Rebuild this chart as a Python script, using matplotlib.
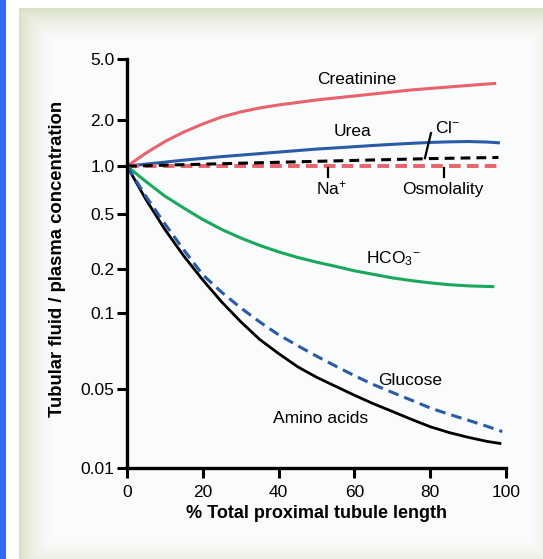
#!/usr/bin/env python3
"""
Tubular fluid / plasma concentration along the proximal tubule.
"""
import matplotlib
matplotlib.use('Agg')
import matplotlib.pyplot as plt
import numpy as np

plt.rcParams['font.family'] = ['Liberation Sans', 'DejaVu Sans']
plt.rcParams['mathtext.fontset'] = 'custom'
plt.rcParams['mathtext.rm'] = 'Liberation Sans'
plt.rcParams['mathtext.it'] = 'Liberation Sans'
plt.rcParams['mathtext.default'] = 'regular'

# Data (x = % of tubule length, y = TF/P ratio)
creat_x = [0, 5, 10, 15, 20, 25, 30, 35, 40, 45, 50, 55, 60, 65, 70, 75, 80, 85, 90, 97]
creat_y = [1.0, 1.216, 1.446, 1.669, 1.883, 2.092, 2.255, 2.395, 2.505, 2.601,
           2.701, 2.783, 2.868, 2.955, 3.045, 3.139, 3.211, 3.284, 3.359, 3.462]

urea_x = [0, 5, 10, 15, 20, 25, 30, 35, 40, 45, 50, 55, 60, 65, 70, 75, 80, 85, 90, 95, 98]
urea_y = [1.0, 1.031, 1.062, 1.095, 1.123, 1.154, 1.180, 1.207, 1.235, 1.263, 1.292,
          1.315, 1.339, 1.364, 1.387, 1.408, 1.427, 1.440, 1.447, 1.436, 1.420]

cl_x = [0, 20, 40, 60, 80, 98]
cl_y = [1.0, 1.03, 1.06, 1.09, 1.12, 1.14]

na_x = [0, 98]
na_y = [1.0, 1.0]

hco3_x = [0, 5, 10, 15, 20, 25, 30, 35, 40, 45, 50, 55, 60, 65, 70, 75, 80, 85, 90, 96.5]
hco3_y = [1.0, 0.80, 0.648, 0.545, 0.456, 0.386, 0.335, 0.296, 0.2655, 0.242, 0.2236,
          0.2085, 0.1938, 0.1834, 0.1735, 0.1663, 0.1604, 0.1559, 0.1530, 0.1513]

gluc_x = [0, 5, 10, 15, 20, 25, 30, 35, 40, 45, 50, 55, 60, 65, 70, 75, 80, 85, 90, 95, 99]
gluc_y = [1.0, 0.6456, 0.424, 0.274, 0.182, 0.1383, 0.1084, 0.0922, 0.0820, 0.0743, 0.0675,
          0.0617, 0.0565, 0.0521, 0.0467, 0.0399, 0.0340, 0.0299, 0.0265, 0.0234, 0.0210]

amino_x = [0, 5, 10, 15, 20, 25, 30, 35, 40, 45, 50, 55, 60, 65, 70, 75, 80, 85, 90, 95, 98.4]
amino_y = [1.0, 0.6165, 0.386, 0.2474, 0.1679, 0.1188, 0.0924, 0.0786, 0.0691, 0.0613, 0.0557,
           0.0513, 0.0441, 0.0371, 0.0317, 0.0270, 0.0232, 0.0206, 0.0187, 0.0172, 0.0165]

y_ticks = [0.01, 0.05, 0.1, 0.2, 0.5, 1.0, 2.0, 5.0]
y_ticklabels = ['0.01', '0.05', '0.1', '0.2', '0.5', '1.0', '2.0', '5.0']
x_ticks = [0, 20, 40, 60, 80, 100]

# The original axis is hand-drawn: tick spacing is not a true log scale
tick_frac = [0, 0.193, 0.379, 0.487, 0.621, 0.738, 0.851, 1.0]
log_ticks = np.log10(y_ticks)


def fwd(v):
    v = np.clip(np.asarray(v, dtype=float), 1e-6, None)
    return np.interp(np.log10(v), log_ticks, tick_frac)


def inv(f):
    return 10 ** np.interp(f, tick_frac, log_ticks)


W, H = 543, 559
fig = plt.figure(figsize=(W / 100, H / 100), dpi=100, facecolor='white')

# background: blue strip + bevelled beige panel
bg = fig.add_axes([0, 0, 1, 1])
bg.set_axis_off()
yy, xx = np.mgrid[0:H, 0:W]
px0, py0, px1, py1 = 19, 8, 562, 572
d = np.minimum.reduce([xx - px0, yy - py0, px1 - xx, py1 - yy]).astype(float)
t = np.clip(d / 32.0, 0, 1) ** 0.7
edge = np.array([0.85, 0.88, 0.77])
inner = np.array([0.98, 0.988, 0.992])
img = edge[None, None, :] * (1 - t[..., None]) + inner[None, None, :] * t[..., None]
img[d < 0] = 1.0
img[:, :6] = np.array([0.2, 0.4, 0.98])
bg.imshow(img, extent=[0, W, H, 0], aspect='auto', interpolation='bilinear')
bg.set_xlim(0, W)
bg.set_ylim(H, 0)

ax = fig.add_axes([127 / W, 1 - 468 / H, 379 / W, 409 / H])
ax.patch.set_alpha(0)
ax.set_yscale('function', functions=(fwd, inv))

red = '#e8636b'
blue = '#2a5ba8'
green = '#1aa85b'

ax.plot(creat_x, creat_y, color=red, lw=2.2)
ax.plot(urea_x, urea_y, color=blue, lw=2.2)
ax.plot(na_x, na_y, color=red, lw=2.8, dashes=(3, 1.6))
ax.plot(cl_x, cl_y, color='black', lw=2.2, dashes=(3.2, 2))
ax.plot(hco3_x, hco3_y, color=green, lw=2.2)
ax.plot(amino_x, amino_y, color='black', lw=2.0)
ax.plot(gluc_x, gluc_y, color=blue, lw=2.2, dashes=(3.5, 2))

# labels
fs = 12.5
ax.text(60.7, 3.65, 'Creatinine', fontsize=fs, ha='center', va='center')
ax.text(59.6, 1.67, 'Urea', fontsize=fs, ha='center', va='center')
ax.text(81.3, 1.77, 'Cl$^{-}$', fontsize=fs, ha='left', va='center')
ax.plot([78.6, 80.2], [1.127, 1.64], color='black', lw=1.6)
ax.plot([53, 53], [0.97, 0.855], color='black', lw=1.6)
ax.text(54, 0.73, 'Na$^{+}$', fontsize=fs, ha='center', va='center')
ax.plot([83.6, 83.6], [0.97, 0.855], color='black', lw=1.6)
ax.text(83.4, 0.71, 'Osmolality', fontsize=fs, ha='center', va='center')
ax.text(70.2, 0.236, 'HCO$_3$$^{-}$', fontsize=fs, ha='center', va='center')
ax.text(74.7, 0.0543, 'Glucose', fontsize=fs, ha='center', va='center')
ax.text(51, 0.0272, 'Amino acids', fontsize=fs, ha='center', va='center')

ax.set_xlim(0, 100)
ax.set_ylim(0.01, 5.0)
ax.set_xticks(x_ticks)
ax.set_yticks(y_ticks)
ax.set_yticklabels(y_ticklabels)
ax.yaxis.set_minor_locator(matplotlib.ticker.NullLocator())
ax.tick_params(axis='both', labelsize=12.5, width=2.2, length=7, direction='out')
ax.tick_params(axis='y', pad=2)
ax.tick_params(axis='x', pad=5)
for s in ['top', 'right']:
    ax.spines[s].set_visible(False)
for s in ['left', 'bottom']:
    ax.spines[s].set_linewidth(2.4)

ax.set_xlabel('% Total proximal tubule length', fontsize=13, fontweight='bold', labelpad=4)
ax.set_ylabel('Tubular fluid / plasma concentration', fontsize=13.3, fontweight='bold')
ax.yaxis.set_label_coords(-0.161, 0.511)

fig.savefig('out.png', dpi=100)
